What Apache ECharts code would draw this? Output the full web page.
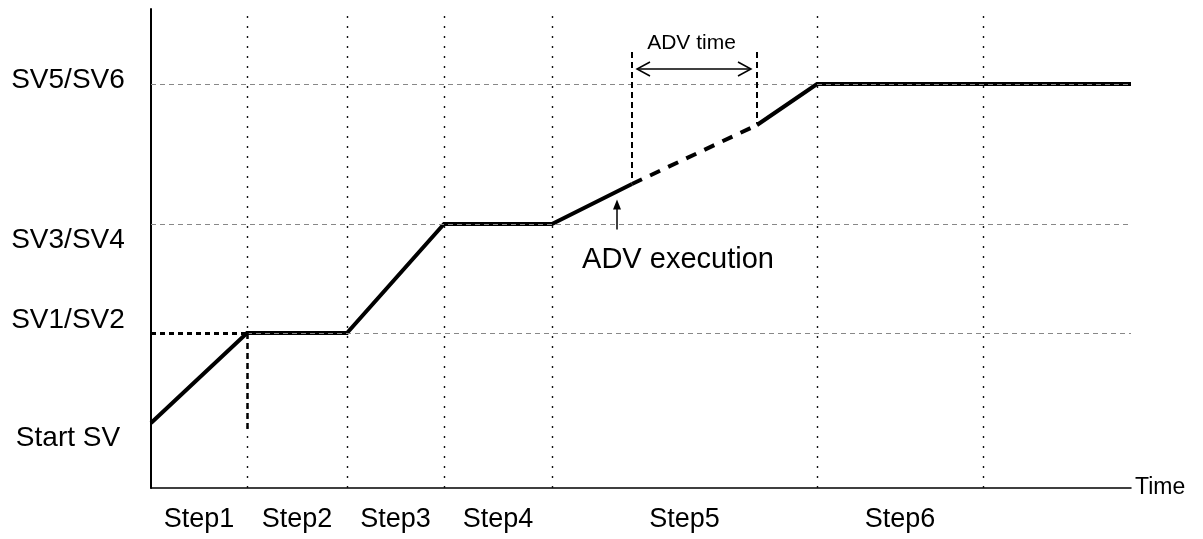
<!DOCTYPE html>
<html>
<head>
<meta charset="utf-8">
<script src="https://cdn.jsdelivr.net/npm/echarts@6/dist/echarts.min.js"></script>
<style>
  html, body { margin: 0; padding: 0; background: #fff; }
  #chart { width: 1203px; height: 539px; }
</style>
</head>
<body>
<div id="chart"></div>
<script>
// Program run profile: set value (SV) against time, six steps, with an ADV (advance) in step 5
const stepNames = ['Step1', 'Step2', 'Step3', 'Step4', 'Step5', 'Step6'];
const stepEnds = [96, 196, 293, 401, 666, 832];      // step boundaries on the time axis
const timeEnd = 980;
const svMax = 479;

const levelNames = ['Start SV', 'SV1/SV2', 'SV3/SV4', 'SV5/SV6'];
const levelValues = [65, 155, 264, 404];

// profile before ADV, during ADV (skipped part), after ADV
const rampTime = [0, 96, 196, 293, 401, 481];
const rampSV   = [65, 155, 155, 264, 264, 304];
const advTime  = [481, 606];
const advSV    = [304, 363];
const tailTime = [606, 666, 980];
const tailSV   = [363, 404, 404];

const FONT = '"Liberation Sans", Arial, Helvetica, sans-serif';
const zip = (xs, ys) => xs.map((x, i) => [x, ys[i]]);

// vertical placement of the SV names relative to their level (px)
const levelLabelDy = [15, -13, 16, -4];

const stepStarts = [0].concat(stepEnds.slice(0, -1));
const stepMids = stepEnds.map((e, i) => (stepStarts[i] + e) / 2);

const chart = echarts.init(document.getElementById('chart'), null, { renderer: 'canvas' });

function textEl(x, y, text, size) {
  return {
    type: 'text', x: x, y: y,
    style: { text: text, fill: '#000', font: size + 'px ' + FONT, align: 'center', verticalAlign: 'middle' }
  };
}

function renderAnnotations(params, api) {
  const p = (x, y) => api.coord([x, y]);
  const top = 436;                       // upper end of the ADV markers
  const a0 = p(advTime[0], top), a1 = p(advTime[0], advSV[0]);
  const b0 = p(advTime[1], top), b1 = p(advTime[1], advSV[1]);
  const arrowY = a0[1] + 17;
  const ax0 = a0[0] + 5, ax1 = b0[0] - 6;
  const dash = { stroke: '#000', lineWidth: 2, lineDash: [6, 4] };
  const thin = { stroke: '#000', lineWidth: 1.5, fill: null };

  // ADV execution pointer, placed under the ramp
  const execT = 466;
  const execBase = p(execT, advSV[0] - (advTime[0] - execT) * (advSV[0] - rampSV[4]) / (advTime[0] - rampTime[4]));
  const tipY = execBase[1] + 8;
  const ex = execBase[0];

  const children = [
    { type: 'line', shape: { x1: a0[0], y1: a0[1], x2: a1[0], y2: a1[1] - 2 }, style: dash },
    { type: 'line', shape: { x1: b0[0], y1: b0[1], x2: b1[0], y2: b1[1] - 2 }, style: dash },
    { type: 'line', shape: { x1: ax0, y1: arrowY, x2: ax1, y2: arrowY }, style: thin },
    { type: 'polyline', shape: { points: [[ax0 + 13, arrowY - 7], [ax0, arrowY], [ax0 + 13, arrowY + 7]] }, style: thin },
    { type: 'polyline', shape: { points: [[ax1 - 13, arrowY - 7], [ax1, arrowY], [ax1 - 13, arrowY + 7]] }, style: thin },
    textEl((a0[0] + b0[0]) / 2 - 3, arrowY - 26, 'ADV time', 21),
    { type: 'line', shape: { x1: ex, y1: tipY + 8, x2: ex, y2: tipY + 30 }, style: { stroke: '#000', lineWidth: 1.5 } },
    { type: 'polygon', shape: { points: [[ex, tipY], [ex - 4, tipY + 10], [ex + 4, tipY + 10]] }, style: { fill: '#000' } },
    textEl(ex + 61, tipY + 60, 'ADV execution', 29)
  ];

  // SV level names beside the vertical axis
  levelValues.forEach((v, i) => {
    const pt = p(0, v);
    children.push(textEl(pt[0] - 83, pt[1] + levelLabelDy[i], levelNames[i], 28));
  });
  // step names under the time axis
  stepMids.forEach((m, i) => {
    const pt = p(m, 0);
    children.push(textEl(pt[0], pt[1] + 32, stepNames[i], 27));
  });

  return { type: 'group', children: children };
}

const option = {
  animation: false,
  backgroundColor: '#fff',
  textStyle: { fontFamily: FONT },
  grid: { left: 151, top: 9, right: 72, bottom: 51, containLabel: false },
  xAxis: {
    type: 'value', min: 0, max: timeEnd,
    name: 'Time', nameLocation: 'end', nameGap: 4,
    nameTextStyle: { fontSize: 23, color: '#000', fontFamily: FONT, align: 'left', verticalAlign: 'middle' },
    axisLine: { show: true, onZero: false, lineStyle: { color: '#000', width: 1.5 } },
    axisTick: { show: false }, axisLabel: { show: false }, splitLine: { show: false }
  },
  yAxis: {
    type: 'value', min: 0, max: svMax,
    axisLine: { show: true, onZero: false, lineStyle: { color: '#000', width: 2 } },
    axisTick: { show: false }, axisLabel: { show: false }, splitLine: { show: false }
  },
  series: [
    {
      // reference lines: step boundaries and SV levels
      type: 'line', data: [], silent: true, z: 1,
      markLine: {
        silent: true, symbol: 'none', label: { show: false }, animation: false,
        data: [
          ...stepEnds.map(t => ({ xAxis: t, lineStyle: { color: '#111', width: 1.4, type: [2, 8] } })),
          { yAxis: levelValues[3], lineStyle: { color: '#888', width: 1, type: [5, 4] } },
          { yAxis: levelValues[2], lineStyle: { color: '#888', width: 1, type: [5, 4] } },
          [{ coord: [stepEnds[0], levelValues[1]], lineStyle: { color: '#888', width: 1, type: [5, 4] } },
           { coord: [timeEnd, levelValues[1]] }],
          [{ coord: [0, levelValues[1]], lineStyle: { color: '#000', width: 3, type: [5, 4] } },
           { coord: [stepEnds[0], levelValues[1]] }],
          [{ coord: [stepEnds[0], levelValues[1]], lineStyle: { color: '#000', width: 2.5, type: [6, 4] } },
           { coord: [stepEnds[0], 55] }]
        ]
      }
    },
    {
      type: 'line', data: zip(rampTime, rampSV), showSymbol: false, silent: true, z: 3,
      lineStyle: { color: '#000', width: 4, cap: 'butt', join: 'miter' }
    },
    {
      type: 'line', data: zip(advTime, advSV), showSymbol: false, silent: true, z: 3,
      lineStyle: { color: '#000', width: 4, type: [11, 9], cap: 'butt' }
    },
    {
      type: 'line', data: zip(tailTime, tailSV), showSymbol: false, silent: true, z: 3,
      lineStyle: { color: '#000', width: 4, cap: 'butt', join: 'miter' }
    },
    {
      // annotations and category texts
      type: 'custom', silent: true, z: 5, clip: false,
      data: [[0, 0]],
      renderItem: renderAnnotations
    }
  ]
};

chart.setOption(option);
</script>
</body>
</html>
